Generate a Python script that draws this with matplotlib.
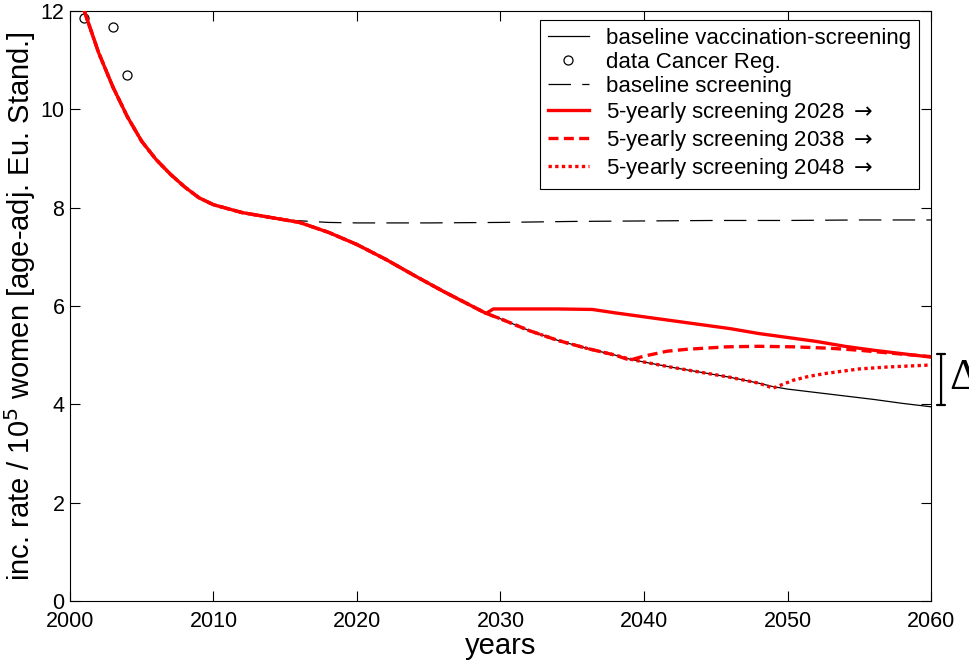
import numpy as np
import matplotlib.pyplot as plt

plt.rcParams['font.family'] = ['Liberation Sans', 'DejaVu Sans']

# baseline vaccination-screening (shared path up to 2029)
years = [2001, 2002, 2003, 2004, 2005, 2006, 2007, 2008, 2009, 2010, 2012, 2014, 2015,
         2016, 2018, 2020, 2022, 2024, 2026, 2028, 2029, 2030, 2032, 2034, 2036, 2038,
         2039, 2040, 2042, 2044, 2046, 2048, 2049, 2050, 2052, 2054, 2056, 2058, 2060]
base_vacc = [12.0, 11.15, 10.45, 9.85, 9.35, 8.98, 8.68, 8.42, 8.2, 8.06, 7.9, 7.8, 7.75,
             7.7, 7.5, 7.25, 6.95, 6.62, 6.3, 6.0, 5.85, 5.74, 5.5, 5.3, 5.14, 5.0,
             4.92, 4.86, 4.75, 4.65, 4.55, 4.43, 4.36, 4.31, 4.24, 4.17, 4.1, 4.02, 3.95]

# baseline screening (dashed), visible after 2015
scr_years = [2015, 2018, 2020, 2025, 2030, 2035, 2040, 2045, 2050, 2055, 2060]
base_scr = [7.75, 7.7, 7.69, 7.69, 7.7, 7.72, 7.73, 7.74, 7.74, 7.75, 7.75]

# 5-yearly screening scenarios (branch off the baseline)
s2028_years = [2029.5, 2031, 2034, 2036.4, 2038, 2040, 2042, 2044, 2046, 2048, 2050, 2052, 2054, 2056, 2058, 2060]
s2028 = [5.94, 5.94, 5.94, 5.93, 5.86, 5.78, 5.7, 5.62, 5.54, 5.44, 5.36, 5.28, 5.18, 5.1, 5.03, 4.96]
s2038_years = [2039.0, 2040, 2041.6, 2043, 2045.8, 2048, 2050.4, 2053, 2055, 2058, 2060]
s2038 = [4.9, 4.98, 5.08, 5.12, 5.17, 5.18, 5.17, 5.14, 5.1, 5.02, 4.97]
s2048_years = [2049.0, 2050.4, 2051.5, 2052.7, 2055, 2057, 2060]
s2048 = [4.33, 4.49, 4.57, 4.63, 4.72, 4.76, 4.8]

# data Cancer Registry
data_years = [2001, 2003, 2004]
data_vals = [11.86, 11.67, 10.7]

years = np.array(years)
base_vacc = np.array(base_vacc)


def scenario(branch_x, branch_y):
    m = years < branch_x[0]
    return np.r_[years[m], branch_x], np.r_[base_vacc[m], branch_y]


fig = plt.figure(figsize=(9.69, 6.64), dpi=100)
ax = fig.add_axes([0.0722, 0.0949, 0.8886, 0.8885])

ax.plot(years, base_vacc, color='black', lw=0.9, label='baseline vaccination-screening')
ax.plot(data_years, data_vals, 'o', mfc='none', mec='black', ms=6.5, mew=0.9,
        label='data Cancer Reg.')
ax.plot(scr_years, base_scr, color='black', lw=0.9, dashes=(18, 9), label='baseline screening')

x3, y3 = scenario(s2048_years, s2048)
x2, y2 = scenario(s2038_years, s2038)
x1, y1 = scenario(s2028_years, s2028)
l3, = ax.plot(x3, y3, color='red', lw=2.4, dashes=(1, 1), zorder=3)
l2, = ax.plot(x2, y2, color='red', lw=2.4, dashes=(3, 1.6), zorder=3)
l1, = ax.plot(x1, y1, color='red', lw=2.4, zorder=4)
l1.set_label('5-yearly screening 2028 $\\rightarrow$')
l2.set_label('5-yearly screening 2038 $\\rightarrow$')
l3.set_label('5-yearly screening 2048 $\\rightarrow$')

ax.set_xlim(2000, 2060)
ax.set_ylim(0, 12)
ax.set_xticks(range(2000, 2061, 10))
ax.set_yticks(range(0, 13, 2))
ax.tick_params(direction='in', top=True, right=True, labelsize=15.5, length=7, width=0.8)
ax.tick_params(axis='x', pad=7)
ax.tick_params(axis='y', pad=4)
for s in ax.spines.values():
    s.set_linewidth(0.8)
ax.set_xlabel('years', fontsize=21, labelpad=0)
ax.set_ylabel('inc. rate / 10$^5$ women [age-adj. Eu. Stand.]', fontsize=21, labelpad=2)

handles = [ax.lines[0], ax.lines[1], ax.lines[2], l1, l2, l3]
leg = ax.legend(handles=handles, loc='upper right', bbox_to_anchor=(0.9855, 0.985),
                fontsize=16, frameon=True, fancybox=False, edgecolor='black',
                framealpha=1, borderpad=0.35, labelspacing=0.14, handlelength=1.85,
                handletextpad=0.75, borderaxespad=0)
leg.get_frame().set_linewidth(0.8)

# delta bracket outside the axes
ax.annotate('', xy=(2060.7, 3.99), xytext=(2060.7, 5.02), xycoords='data',
            arrowprops=dict(arrowstyle='|-|, widthA=0.3, widthB=0.3', lw=1.6, color='black',
                            shrinkA=0, shrinkB=0), annotation_clip=False)
ax.text(2061.3, 4.54, 'Δ', fontsize=32, va='center', ha='left', clip_on=False,
        family=['Liberation Serif', 'DejaVu Serif'])

fig.savefig('out.png', dpi=100)
